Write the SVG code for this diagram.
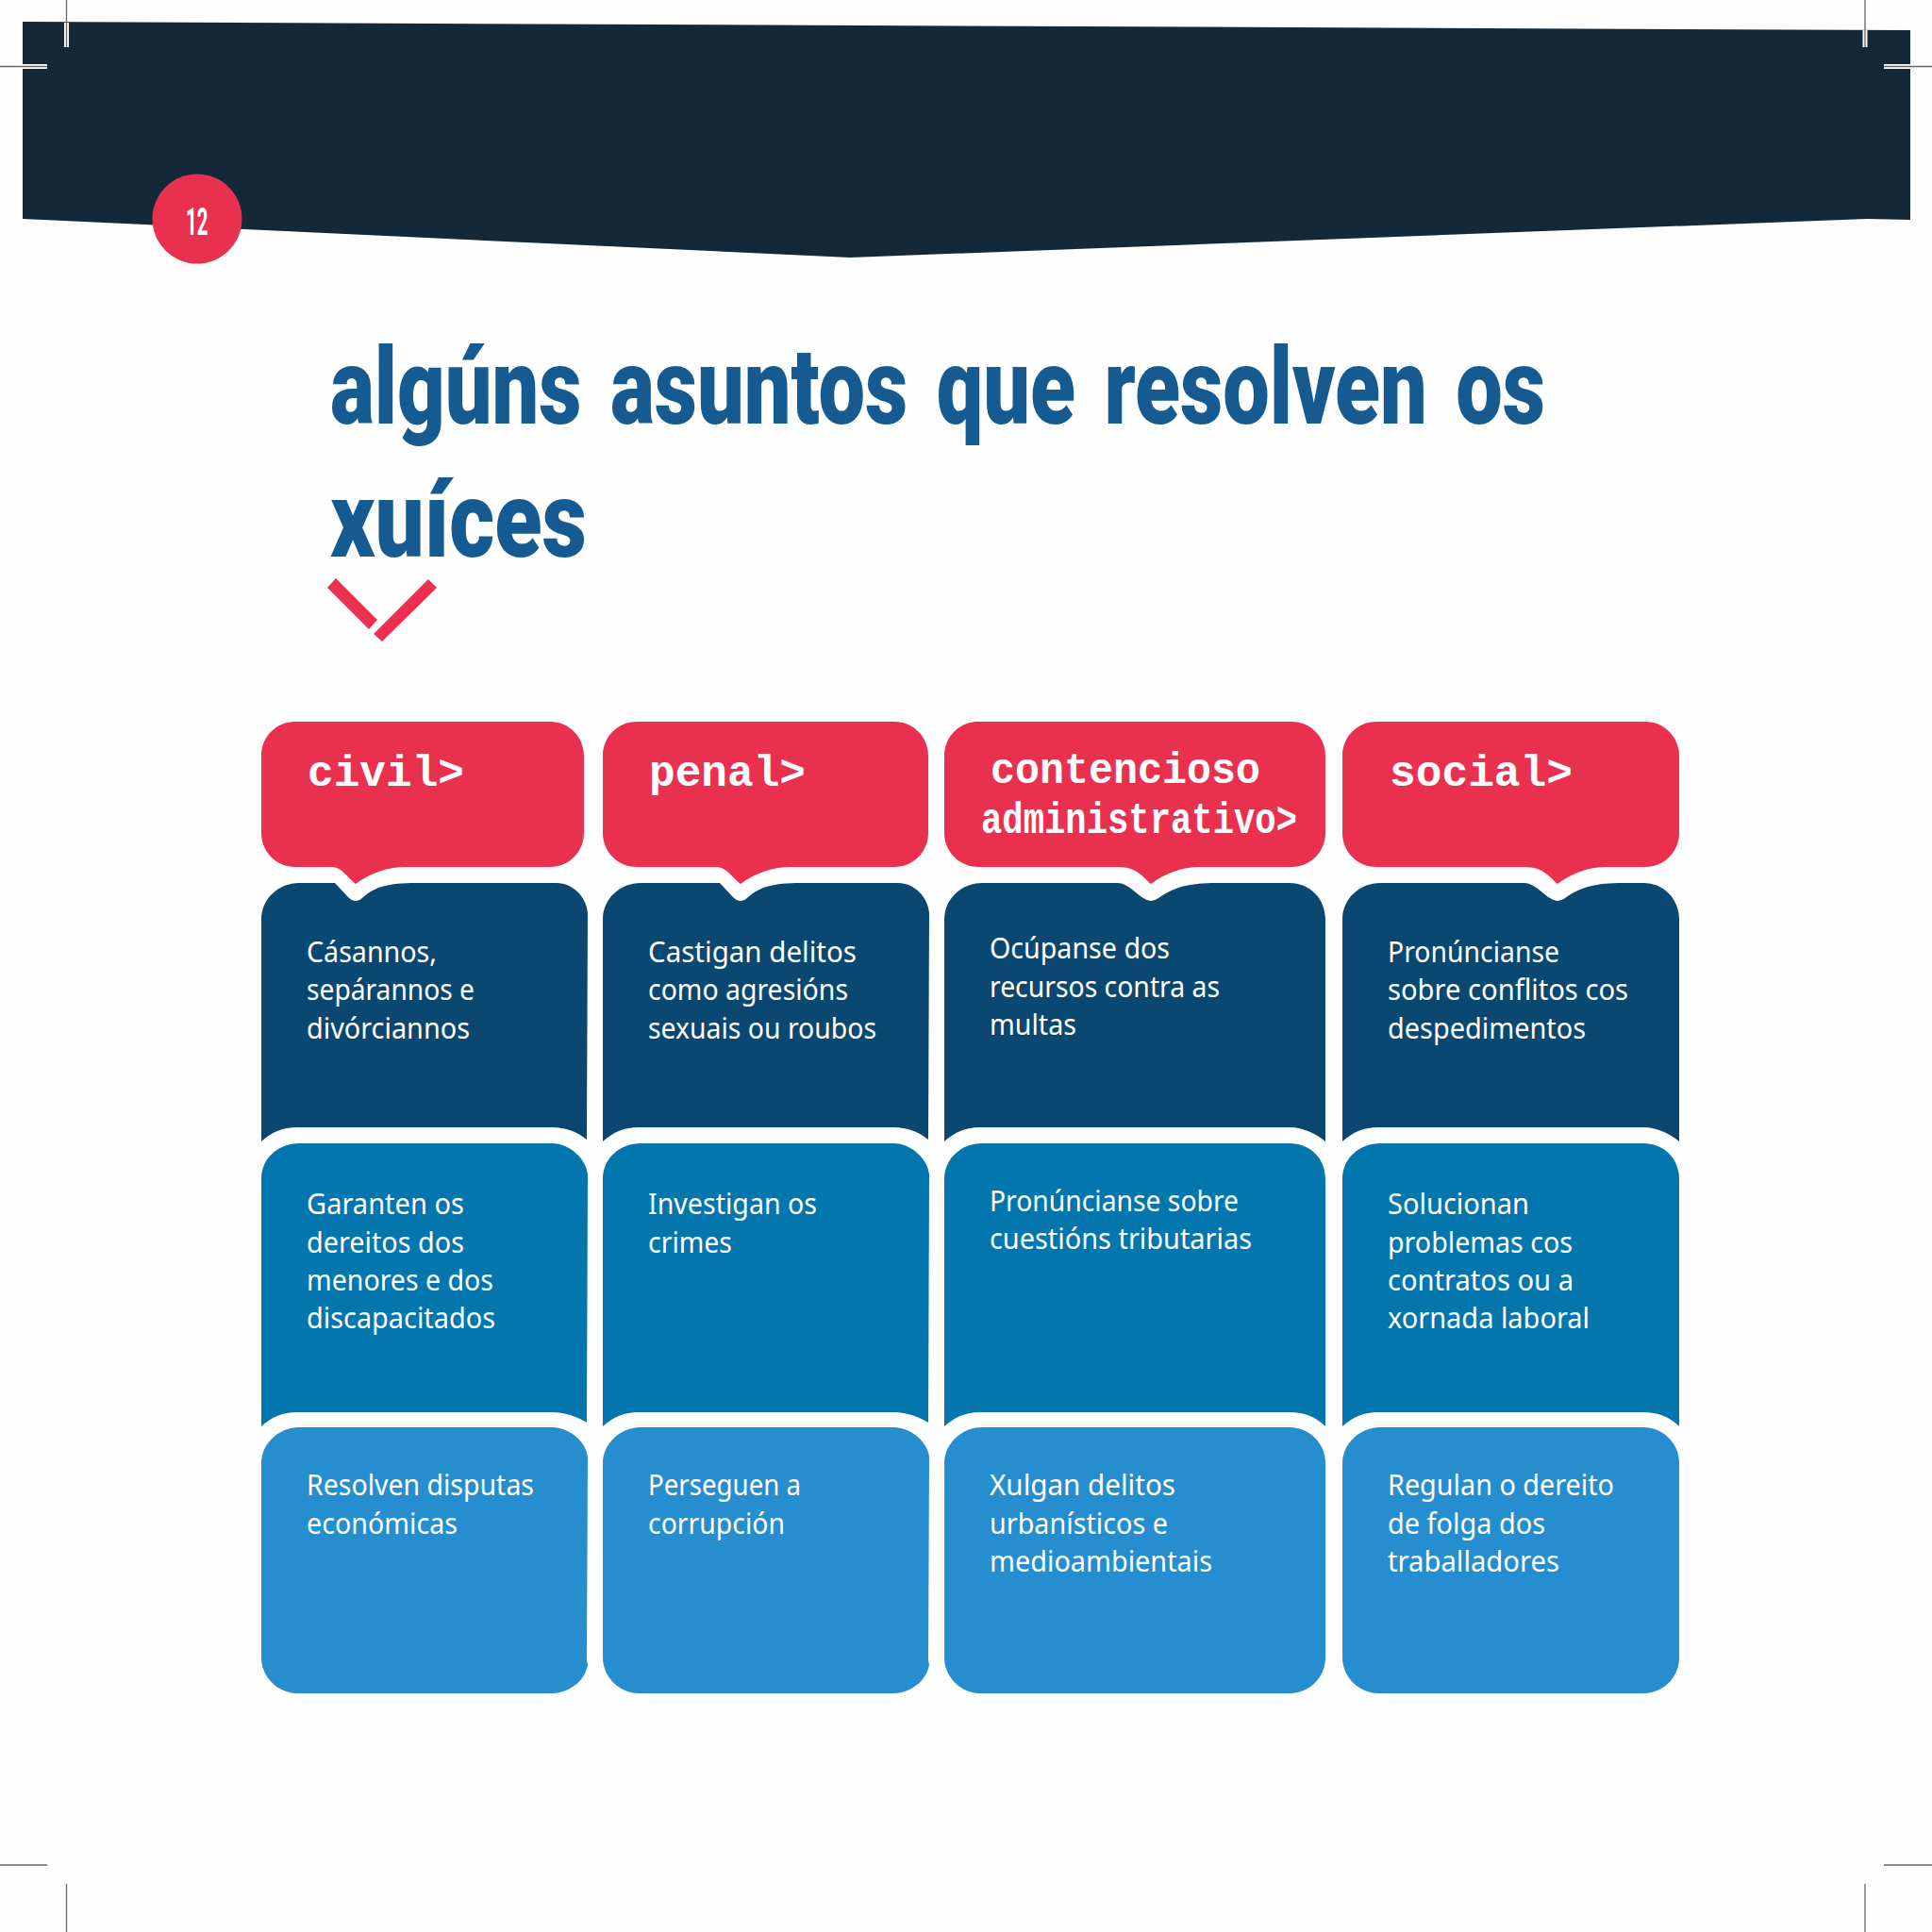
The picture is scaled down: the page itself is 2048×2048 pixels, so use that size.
<svg xmlns="http://www.w3.org/2000/svg" width="2048" height="2048" viewBox="0 0 2048 2048">
<style>
.red{fill:#e9304f}.dark{fill:#0a4872}.mid{fill:#0476ae}.light{fill:#268ece}
.b{font-family:"Noto Sans","Open Sans",sans-serif;font-size:31px;fill:#fff}
.h{font-family:"Liberation Mono",monospace;font-weight:700;font-size:46px;fill:#fff}
.t{font-family:Roboto,"Liberation Sans",sans-serif;font-weight:900;font-size:114px;fill:#155a91}
.cw{stroke:#fff;stroke-width:5;fill:none}.cg{stroke:#666;stroke-width:1.3;fill:none}
</style>
<rect width="2048" height="2048" fill="#fefefe"/>
<g id="banner">
<path d="M24,23 L2025,32 V233 L1979,232 L901,273 L24,232 Z" fill="#13293a"/>
<path class="cw" d="M70.500,24 V50 M1977,32 V50 M24,70.500 H50 M1997,70.500 H2025"/>
<path class="cg" d="M70.500,0 V50 M1977,0 V50 M0,70.500 H50 M1997,70.500 H2048 M0,1977 H50 M1997,1977 H2048 M70.500,1997 V2048 M1977,1997 V2048"/>
</g>
<g id="page-number">
<circle cx="209" cy="232" r="47.500" class="red"/>
<text x="197" y="249" textLength="23.500" lengthAdjust="spacingAndGlyphs" font-family="Roboto,sans-serif" font-weight="700" font-size="40" fill="#fff">12</text>
</g>
<g id="title">
<text class="t" x="350" y="449" word-spacing="11" textLength="1288" lengthAdjust="spacingAndGlyphs">algúns asuntos que resolven os</text>
<text class="t" x="350" y="590" textLength="272" lengthAdjust="spacingAndGlyphs">xuíces</text>
<path class="red" d="M356,613 L347,623 L391,667 L400,657 Z M454,614 L463,623 L405,680 L396,672 Z"/>
</g>

<g id="civil">
<path class="red" d="M313,765 H583 C603,765 619,781 619,801 V883 C619,903 603,919 583,919 H430 C410,919 392,926 377,937 C368,930 362,919 352,919 H313 C293,919 277,903 277,883 V801 C277,781 293,765 313,765 Z"/>
<text class="h" x="326" y="833" textLength="166" lengthAdjust="spacingAndGlyphs">civil&gt;</text>
</g>
<g id="civil-1">
<path class="dark" d="M277,975 C277,952 296,936 317,936 H355 L369,951 Q377,959 385,951 C400,938 415,936 447,936 H590 C608,936 622,952 623,968 L622,1208 C612,1200 600,1195 585,1195 H315 C300,1195 288,1200 277,1210 Z"/>
<text class="b"><tspan x="325" y="1020" textLength="138" lengthAdjust="spacingAndGlyphs">Cásannos,</tspan><tspan x="325" y="1060" textLength="178" lengthAdjust="spacingAndGlyphs">sepárannos e</tspan><tspan x="325" y="1101" textLength="173" lengthAdjust="spacingAndGlyphs">divórciannos</tspan></text>
</g>
<g id="civil-2">
<path class="mid" d="M277,1250 C277,1227 296,1212 317,1212 H585 C605,1212 622,1230 623,1245 L622,1508 C612,1502 600,1497 585,1497 H315 C300,1497 288,1502 277,1512 Z"/>
<text class="b"><tspan x="325" y="1287" textLength="167" lengthAdjust="spacingAndGlyphs">Garanten os</tspan><tspan x="325" y="1328" textLength="167" lengthAdjust="spacingAndGlyphs">dereitos dos</tspan><tspan x="325" y="1368" textLength="198" lengthAdjust="spacingAndGlyphs">menores e dos</tspan><tspan x="325" y="1408" textLength="200" lengthAdjust="spacingAndGlyphs">discapacitados</tspan></text>
</g>
<g id="civil-3">
<path class="light" d="M277,1551 C277,1530 296,1513 317,1513 H585 C605,1513 622,1530 623,1545 L622,1760 L623,1765 C620,1782 603,1795 585,1795 H315 C295,1795 277,1778 277,1757 Z"/>
<text class="b"><tspan x="325" y="1585" textLength="241" lengthAdjust="spacingAndGlyphs">Resolven disputas</tspan><tspan x="325" y="1626" textLength="160" lengthAdjust="spacingAndGlyphs">económicas</tspan></text>
</g>

<g id="penal">
<path class="red" d="M675,765 H948 C968,765 984,781 984,801 V883 C984,903 968,919 948,919 H838 C818,919 800,926 785,937 C776,930 770,919 760,919 H675 C655,919 639,903 639,883 V801 C639,781 655,765 675,765 Z"/>
<text class="h" x="688" y="833" textLength="166" lengthAdjust="spacingAndGlyphs">penal&gt;</text>
</g>
<g id="penal-1">
<path class="dark" d="M639,975 C639,952 658,936 679,936 H763 L777,951 Q785,959 793,951 C808,938 823,936 855,936 H952 C970,936 984,952 985,968 L984,1208 C974,1200 962,1195 947,1195 H677 C662,1195 650,1200 639,1210 Z"/>
<text class="b"><tspan x="687" y="1020" textLength="221" lengthAdjust="spacingAndGlyphs">Castigan delitos</tspan><tspan x="687" y="1060" textLength="212" lengthAdjust="spacingAndGlyphs">como agresións</tspan><tspan x="687" y="1101" textLength="242" lengthAdjust="spacingAndGlyphs">sexuais ou roubos</tspan></text>
</g>
<g id="penal-2">
<path class="mid" d="M639,1250 C639,1227 658,1212 679,1212 H947 C967,1212 984,1230 985,1245 L984,1508 C974,1502 962,1497 947,1497 H677 C662,1497 650,1502 639,1512 Z"/>
<text class="b"><tspan x="687" y="1287" textLength="179" lengthAdjust="spacingAndGlyphs">Investigan os</tspan><tspan x="687" y="1328" textLength="89" lengthAdjust="spacingAndGlyphs">crimes</tspan></text>
</g>
<g id="penal-3">
<path class="light" d="M639,1551 C639,1530 658,1513 679,1513 H947 C967,1513 984,1530 985,1545 L984,1760 L985,1765 C982,1782 965,1795 947,1795 H677 C657,1795 639,1778 639,1757 Z"/>
<text class="b"><tspan x="687" y="1585" textLength="162" lengthAdjust="spacingAndGlyphs">Perseguen a</tspan><tspan x="687" y="1626" textLength="145" lengthAdjust="spacingAndGlyphs">corrupción</tspan></text>
</g>

<g id="contencioso">
<path class="red" d="M1037,765 H1369 C1389,765 1405,781 1405,801 V883 C1405,903 1389,919 1369,919 H1272 C1252,919 1235,926 1220,937 C1212,930 1205,919 1185,919 H1037 C1017,919 1001,903 1001,883 V801 C1001,781 1017,765 1037,765 Z"/>
<text class="h" x="1050" y="830" textLength="286" lengthAdjust="spacingAndGlyphs">contencioso</text>
<text class="h" x="1040" y="883" textLength="335" lengthAdjust="spacingAndGlyphs">administrativo&gt;</text>
</g>
<g id="contencioso-1">
<path class="dark" d="M1001,975 C1001,952 1020,936 1041,936 H1185 C1195,936 1205,948 1212,952 Q1220,958 1228,952 C1245,940 1260,936 1290,936 H1367 C1388,936 1405,952 1405,975 V1210 C1395,1202 1382,1195 1367,1195 H1039 C1024,1195 1012,1200 1001,1210 Z"/>
<text class="b"><tspan x="1049" y="1016" textLength="191" lengthAdjust="spacingAndGlyphs">Ocúpanse dos</tspan><tspan x="1049" y="1057" textLength="244" lengthAdjust="spacingAndGlyphs">recursos contra as</tspan><tspan x="1049" y="1097" textLength="92" lengthAdjust="spacingAndGlyphs">multas</tspan></text>
</g>
<g id="contencioso-2">
<path class="mid" d="M1001,1250 C1001,1227 1020,1212 1041,1212 H1367 C1388,1212 1405,1227 1405,1250 V1512 C1395,1502 1382,1497 1367,1497 H1039 C1024,1497 1012,1502 1001,1512 Z"/>
<text class="b"><tspan x="1049" y="1284" textLength="264" lengthAdjust="spacingAndGlyphs">Pronúncianse sobre</tspan><tspan x="1049" y="1324" textLength="278" lengthAdjust="spacingAndGlyphs">cuestións tributarias</tspan></text>
</g>
<g id="contencioso-3">
<path class="light" d="M1001,1551 C1001,1530 1020,1513 1041,1513 H1367 C1388,1513 1405,1530 1405,1551 V1757 C1405,1778 1388,1795 1367,1795 H1039 C1019,1795 1001,1778 1001,1757 Z"/>
<text class="b"><tspan x="1049" y="1585" textLength="197" lengthAdjust="spacingAndGlyphs">Xulgan delitos</tspan><tspan x="1049" y="1626" textLength="189" lengthAdjust="spacingAndGlyphs">urbanísticos e</tspan><tspan x="1049" y="1666" textLength="236" lengthAdjust="spacingAndGlyphs">medioambientais</tspan></text>
</g>

<g id="social">
<path class="red" d="M1459,765 H1744 C1764,765 1780,781 1780,801 V883 C1780,903 1764,919 1744,919 H1703 C1683,919 1666,926 1651,937 C1643,930 1636,919 1616,919 H1459 C1439,919 1423,903 1423,883 V801 C1423,781 1439,765 1459,765 Z"/>
<text class="h" x="1473" y="833" textLength="194" lengthAdjust="spacingAndGlyphs">social&gt;</text>
</g>
<g id="social-1">
<path class="dark" d="M1423,975 C1423,952 1442,936 1463,936 H1616 C1626,936 1636,948 1643,952 Q1651,958 1659,952 C1676,940 1691,936 1721,936 H1742 C1763,936 1780,952 1780,975 V1210 C1770,1202 1757,1195 1742,1195 H1461 C1446,1195 1434,1200 1423,1210 Z"/>
<text class="b"><tspan x="1471" y="1020" textLength="182" lengthAdjust="spacingAndGlyphs">Pronúncianse</tspan><tspan x="1471" y="1060" textLength="255" lengthAdjust="spacingAndGlyphs">sobre conflitos cos</tspan><tspan x="1471" y="1101" textLength="210" lengthAdjust="spacingAndGlyphs">despedimentos</tspan></text>
</g>
<g id="social-2">
<path class="mid" d="M1423,1250 C1423,1227 1442,1212 1463,1212 H1742 C1763,1212 1780,1227 1780,1250 V1512 C1770,1502 1757,1497 1742,1497 H1461 C1446,1497 1434,1502 1423,1512 Z"/>
<text class="b"><tspan x="1471" y="1287" textLength="150" lengthAdjust="spacingAndGlyphs">Solucionan</tspan><tspan x="1471" y="1328" textLength="196" lengthAdjust="spacingAndGlyphs">problemas cos</tspan><tspan x="1471" y="1368" textLength="197" lengthAdjust="spacingAndGlyphs">contratos ou a</tspan><tspan x="1471" y="1408" textLength="214" lengthAdjust="spacingAndGlyphs">xornada laboral</tspan></text>
</g>
<g id="social-3">
<path class="light" d="M1423,1551 C1423,1530 1442,1513 1463,1513 H1742 C1763,1513 1780,1530 1780,1551 V1757 C1780,1778 1763,1795 1742,1795 H1461 C1441,1795 1423,1778 1423,1757 Z"/>
<text class="b"><tspan x="1471" y="1585" textLength="240" lengthAdjust="spacingAndGlyphs">Regulan o dereito</tspan><tspan x="1471" y="1626" textLength="167" lengthAdjust="spacingAndGlyphs">de folga dos</tspan><tspan x="1471" y="1666" textLength="182" lengthAdjust="spacingAndGlyphs">traballadores</tspan></text>
</g>
<g id="connectors"/>
</svg>
